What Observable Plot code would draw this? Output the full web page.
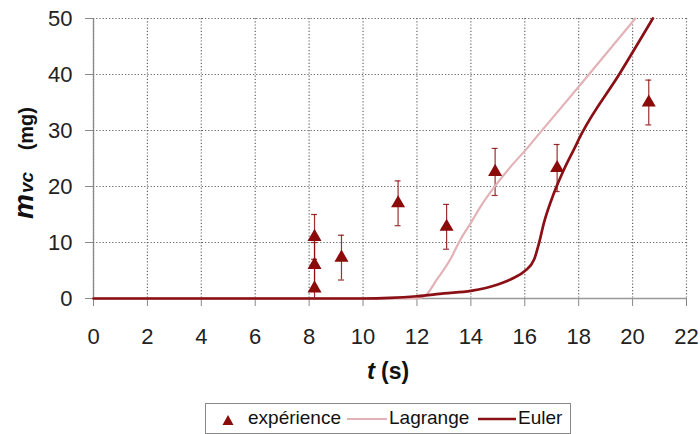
<!DOCTYPE html>
<html>
<head>
<meta charset="utf-8">
<script src="https://cdn.jsdelivr.net/npm/d3@7"></script>
<script src="https://cdn.jsdelivr.net/npm/@observablehq/plot@0.6"></script>
<style>
  body { margin: 0; background: #fff; font-family: "Liberation Sans", Arial, sans-serif; }
  #wrap { position: relative; width: 700px; height: 434px; overflow: hidden; }
  #wrap > svg { position: absolute; left: 0; top: 0; }
  #legend { position: absolute; left: 205px; top: 403px; width: 366px; height: 31px;
    border: 1px solid #888; box-sizing: border-box; font-size: 19px; color: #111; white-space: nowrap; }
  #legend > * { position: absolute; }
  #legend span { top: 3px; line-height: 22px; }
</style>
</head>
<body>
<div id="wrap"></div>
<script>
// Experimental points
const expT = [8.2, 8.2, 8.2, 9.2, 11.3, 13.1, 14.9, 17.2, 20.6];
const expM = [11, 6, 1.8, 7.3, 17, 12.8, 22.6, 23.3, 35];
const expErr = [4, 4, 4, 4, 4, 4, 4.2, 4.2, 4];

// Lagrange model
const lagT = [0, 12.0, 12.31, 12.74, 13.24, 13.61, 14.0, 14.37, 14.79, 15.47, 16.1, 16.6, 18.0, 20.1];
const lagM = [0, 0, 0.5, 3.4, 7.0, 10.5, 13.5, 16.5, 19.4, 23.5, 26.9, 29.8, 37.8, 50];

// Euler model
const eulT = [0, 10, 11, 12, 13, 14, 15, 15.6, 16.0, 16.35, 16.53, 16.71, 17.08, 17.45, 17.82, 18.13, 19.5, 20.75];
const eulM = [0, 0, 0.1, 0.4, 0.9, 1.35, 2.5, 3.7, 4.9, 7.0, 9.9, 13.5, 18.8, 23, 26.6, 29.6, 40, 50];

const xTicks = [0, 2, 4, 6, 8, 10, 12, 14, 16, 18, 20, 22];
const yTicks = [0, 10, 20, 30, 40, 50];

const expData = expT.map((t, i) => ({t, m: expM[i], lo: Math.max(0, expM[i] - expErr[i]), hi: expM[i] + expErr[i]}));
const lagData = lagT.map((t, i) => ({t, m: lagM[i]}));
const eulData = eulT.map((t, i) => ({t, m: eulM[i]}));

const cLag = "#e3b2b7";
const cEul = "#8a1016";
const cExp = "#8b0a0a";
const capHalf = 0.11;

const chart = Plot.plot({
  width: 700,
  height: 392,
  marginLeft: 93,
  marginRight: 14,
  marginTop: 18,
  marginBottom: 94,
  style: { fontFamily: "'Liberation Sans', Arial, sans-serif", fontSize: "22px", color: "#222", background: "#fff" },
  x: { domain: [0, 22], label: null },
  y: { domain: [0, 50], label: null },
  marks: [
    Plot.gridX(xTicks, { stroke: "#666", strokeOpacity: 1, strokeWidth: 1.2, strokeDasharray: "1.2,2" }),
    Plot.gridY(yTicks, { stroke: "#666", strokeOpacity: 1, strokeWidth: 1.2, strokeDasharray: "1.2,2" }),
    Plot.axisX({ ticks: xTicks, tickSize: 8, tickPadding: 22, stroke: "#888", fill: "#222", fontSize: 22, tickFormat: d => String(d) }),
    Plot.axisY({ ticks: yTicks, tickSize: 8, tickPadding: 13, stroke: "#888", fill: "#222", fontSize: 22, tickFormat: d => String(d) }),
    Plot.ruleX([0], { stroke: "#888", strokeWidth: 1.3 }),
    Plot.ruleY([0], { stroke: "#999", strokeWidth: 1.3 }),
    Plot.ruleX(expData, { x: "t", y1: "lo", y2: "hi", stroke: cExp, strokeWidth: 1.2, strokeOpacity: 0.85 }),
    Plot.ruleY(expData, { y: "hi", x1: d => d.t - capHalf, x2: d => d.t + capHalf, stroke: cExp, strokeWidth: 1.2, strokeOpacity: 0.85 }),
    Plot.ruleY(expData.filter(d => d.lo > 0), { y: "lo", x1: d => d.t - capHalf, x2: d => d.t + capHalf, stroke: cExp, strokeWidth: 1.2, strokeOpacity: 0.85 }),
    Plot.line(lagData, { x: "t", y: "m", stroke: cLag, strokeWidth: 2.2, curve: "monotone-x" }),
    Plot.line(eulData, { x: "t", y: "m", stroke: cEul, strokeWidth: 2.7, curve: "monotone-x" }),
    Plot.dot(expData, { x: "t", y: "m", symbol: "triangle", r: 5.2, fill: cExp, stroke: "none" })
  ]
});

document.getElementById("wrap").appendChild(chart);

// Axis titles with mixed styling (separate text elements)
const svg = d3.select(chart);
const ff = "'Liberation Sans', Arial, sans-serif";
function addText(x, y, rot, anchor, txt, size, italic) {
  svg.append("text")
    .attr("transform", `translate(${x},${y})` + (rot ? ` rotate(${rot})` : ""))
    .attr("text-anchor", anchor)
    .attr("fill", "#111")
    .style("font-family", ff)
    .style("font-weight", "bold")
    .style("font-style", italic ? "italic" : "normal")
    .style("font-size", size + "px")
    .text(txt);
}
// x title
addText(375, 379, 0, "end", "t", 24, true);
addText(381, 379, 0, "start", "(s)", 23, false);
// y title (reads bottom to top)
addText(33, 219, -90, "start", "m", 28, true);
addText(33, 193, -90, "start", "vc", 19, true);
addText(33, 107, -90, "end", "(mg)", 20, false);

// Legend
const legend = document.createElement("div");
legend.id = "legend";
legend.innerHTML = `
  <svg width="14" height="14" style="left:15px;top:9px"><polygon points="7,2 12.5,12 1.5,12" fill="${cExp}"/></svg>
  <span style="left:42px">expérience</span>
  <svg width="40" height="6" style="left:141px;top:12px"><line x1="0" x2="40" y1="3" y2="3" stroke="${cLag}" stroke-width="2"/></svg>
  <span style="left:183px">Lagrange</span>
  <svg width="38" height="6" style="left:272px;top:12px"><line x1="0" x2="38" y1="3" y2="3" stroke="${cEul}" stroke-width="2.5"/></svg>
  <span style="left:312px">Euler</span>`;
document.getElementById("wrap").appendChild(legend);
</script>
</body>
</html>
